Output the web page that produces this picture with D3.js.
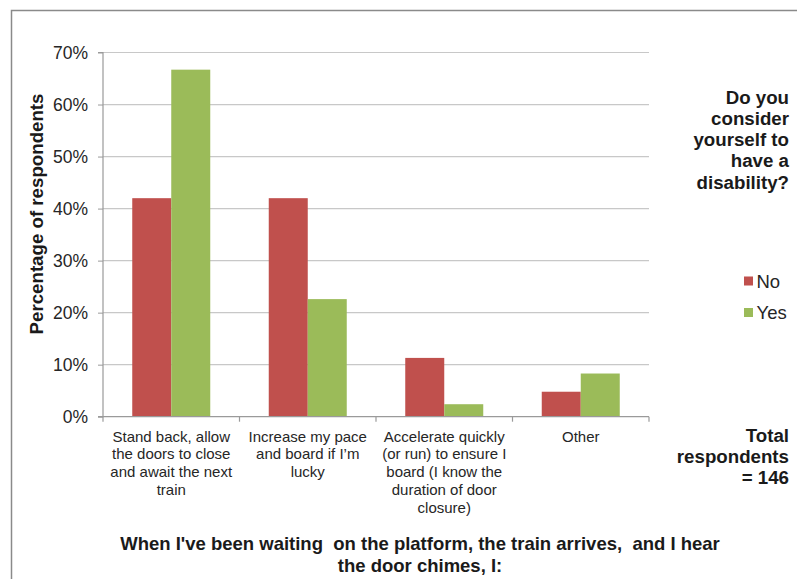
<!DOCTYPE html>
<html>
<head>
<meta charset="utf-8">
<script src="https://cdn.jsdelivr.net/npm/d3@7"></script>
<style>
  html, body { margin: 0; padding: 0; background: #fff; }
  svg { display: block; font-family: "Liberation Sans", Arial, sans-serif; }
</style>
</head>
<body>
<svg id="chart" width="797" height="579"></svg>
<script>
// Survey responses by disability status (share of respondents)
const categories = [
  ["Stand back, allow", "the doors to close", "and await the next", "train"],
  ["Increase my pace", "and board if I\u2019m", "lucky"],
  ["Accelerate quickly", "(or run) to ensure I", "board (I know the", "duration of door", "closure)"],
  ["Other"]
];
const seriesNames = ["No", "Yes"];
const noValues  = [0.42, 0.42, 0.113, 0.048];
const yesValues = [0.667, 0.226, 0.024, 0.083];
const yTicks = [0, 0.1, 0.2, 0.3, 0.4, 0.5, 0.6, 0.7];
const colors = ["#C0504D", "#9BBB59"];

const FONT = "Liberation Sans, Arial, sans-serif";
const svg = d3.select("#chart");

// outer frame
svg.append("path")
  .attr("d", "M11.5,579 V10.5 H797")
  .attr("fill", "none")
  .attr("stroke", "#8a8a8a")
  .attr("stroke-width", 1.5);

const plot = { left: 103, right: 649, top: 52.5, bottom: 416.7 };

const x = d3.scaleBand()
  .domain(d3.range(categories.length))
  .range([plot.left, plot.right])
  .paddingInner(0).paddingOuter(0);

const y = d3.scaleLinear().domain([0, 0.7]).range([plot.bottom, plot.top]);

// gridlines
svg.append("g")
  .selectAll("line")
  .data(yTicks.filter(d => d > 0))
  .join("line")
  .attr("x1", plot.left).attr("x2", plot.right)
  .attr("y1", d => y(d)).attr("y2", d => y(d))
  .attr("stroke", "#c8c8c8").attr("stroke-width", 1.2);

// y axis
const yAxis = svg.append("g")
  .attr("transform", `translate(${plot.left},0)`)
  .call(d3.axisLeft(y).tickValues(yTicks).tickFormat(d3.format(".0%")).tickSize(5).tickPadding(10));
yAxis.select(".domain").attr("stroke", "#9a9a9a").attr("stroke-width", 1.2).attr("d", `M-5,${plot.top}H0V${plot.bottom}H-5`);
yAxis.selectAll(".tick line").attr("stroke", "#9a9a9a");
yAxis.selectAll(".tick text").attr("font-size", 17.5).attr("fill", "#262626")
  .attr("font-family", FONT);

// bars (gap between groups = 1.5 bar widths)
const barW = x.bandwidth() / (2 + 1.5);
const series = [noValues, yesValues];
series.forEach((vals, si) => {
  svg.append("g")
    .selectAll("rect")
    .data(vals)
    .join("rect")
    .attr("x", (d, i) => x(i) + barW * 0.75 + si * barW)
    .attr("width", barW)
    .attr("y", d => y(d))
    .attr("height", d => y(0) - y(d))
    .attr("fill", colors[si]);
});

// x axis
const xAxisG = svg.append("g");
xAxisG.append("line")
  .attr("x1", plot.left).attr("x2", plot.right)
  .attr("y1", plot.bottom).attr("y2", plot.bottom)
  .attr("stroke", "#9a9a9a").attr("stroke-width", 1.2);
xAxisG.selectAll("line.tk")
  .data(d3.range(categories.length + 1))
  .join("line")
  .attr("class", "tk")
  .attr("x1", i => plot.left + i * x.bandwidth())
  .attr("x2", i => plot.left + i * x.bandwidth())
  .attr("y1", plot.bottom).attr("y2", plot.bottom + 5)
  .attr("stroke", "#9a9a9a").attr("stroke-width", 1.2);

// category labels
categories.forEach((lines, i) => {
  const cx = x(i) + x.bandwidth() / 2;
  const t = svg.append("text")
    .attr("y", 441.5)
    .attr("text-anchor", "middle")
    .attr("font-size", 15)
    .attr("fill", "#262626");
  lines.forEach((ln, k) => {
    t.append("tspan").attr("x", cx).attr("dy", k === 0 ? 0 : 17.8).text(ln);
  });
});

// y axis title
svg.append("text")
  .attr("transform", "translate(42.5,214) rotate(-90)")
  .attr("text-anchor", "middle")
  .attr("font-size", 18.7)
  .attr("font-weight", "bold")
  .attr("fill", "#1a1a1a")
  .text("Percentage of respondents");

// legend title
const legTitle = ["Do you", "consider", "yourself to", "have a", "disability?"];
const lt = svg.append("text")
  .attr("text-anchor", "end")
  .attr("font-size", 18.7)
  .attr("font-weight", "bold")
  .attr("fill", "#1a1a1a");
legTitle.forEach((ln, k) => {
  lt.append("tspan").attr("x", 789).attr("y", 103.5 + k * 21.3).text(ln);
});

// legend entries
seriesNames.forEach((name, si) => {
  const cy = 281 + si * 31.5;
  svg.append("rect")
    .attr("x", 744).attr("y", cy - 4.5)
    .attr("width", 9).attr("height", 9)
    .attr("fill", colors[si]);
  svg.append("text")
    .attr("x", 756.5).attr("y", cy + 6.5)
    .attr("font-size", 18.5)
    .attr("fill", "#262626")
    .text(name);
});

// respondent count note
const note = ["Total", "respondents", "= 146"];
const nt = svg.append("text")
  .attr("text-anchor", "end")
  .attr("font-size", 18.7)
  .attr("font-weight", "bold")
  .attr("fill", "#1a1a1a");
note.forEach((ln, k) => {
  nt.append("tspan").attr("x", 789).attr("y", 441.5 + k * 21.3).text(ln);
});

// x axis title
const xt = svg.append("text")
  .attr("text-anchor", "middle")
  .attr("font-size", 18.5)
  .attr("font-weight", "bold")
  .attr("fill", "#1a1a1a");
["When I've been waiting  on the platform, the train arrives,  and I hear", "the door chimes, I:"].forEach((ln, k) => {
  xt.append("tspan").attr("x", 420).attr("y", 550 + k * 21.5).attr("xml:space", "preserve").text(ln);
});
</script>
</body>
</html>
